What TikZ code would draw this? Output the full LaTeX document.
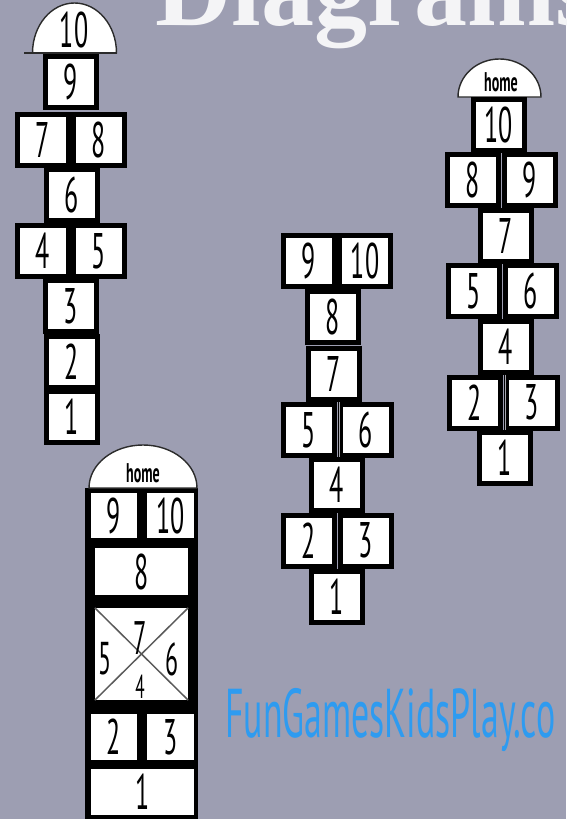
\documentclass[tikz,border=0pt]{standalone}
\usepackage{fontspec}
\usepackage{xcolor}
\usepackage{tikz}
\usetikzlibrary{positioning}
\newfontfamily\hopfont[FakeStretch=0.52]{PT Sans}
\newfontfamily\chalkfont{Liberation Serif}
\definecolor{slate}{HTML}{9D9EB2}
\definecolor{chalk}{HTML}{F4F4F6}
\definecolor{webblue}{HTML}{2E9BF0}
\definecolor{inkc}{HTML}{2B2B2B}
\definecolor{xgray}{HTML}{5A5A5A}
\definecolor{seamc}{HTML}{A6A6AE}
\tikzset{
  cell/.style={draw=black,line width=5pt,fill=white,minimum width=51pt,minimum height=51pt,inner sep=0pt,font=\hopfont\fontsize{50}{50}\selectfont},
  pane/.style={fill=white,inner sep=0pt,font=\hopfont\fontsize{50}{50}\selectfont},
  dome/.style={draw=inkc,line width=1.4pt,fill=white},
  word/.style={inner sep=0pt,font=\hopfont\bfseries\fontsize{27}{27}\selectfont},
  big/.style={inner sep=0pt,font=\hopfont\fontsize{50}{50}\selectfont},
  seam/.style={seamc,line width=0.8pt},
  xline/.style={xgray,line width=1.5pt}
}

\begin{document}
\begin{tikzpicture}[x=1pt,y=-1pt]
\fill[slate] (0,0) rectangle (566,819);
\useasboundingbox (0,0) rectangle (566,819);
\clip (0,0) rectangle (566,819);
\node[anchor=base west,inner sep=0pt,chalk,font=\chalkfont\bfseries\fontsize{106}{106}\selectfont] (title) at (155,25) {Diagrams};

% left court, ten in the dome
\draw[dome] (32.5,53) arc[start angle=180,end angle=360,x radius=42,y radius=50] -- cycle;
\draw[inkc,line width=2pt] (24,53) -- (117,53);
\node[big] (atop) at (74,30) {10};
\node[cell] (a9) at (71,81.5) {9};
\node[cell] (a7) at (43,139.5) {7};
\node[cell] (a8) at (99,139.5) {8};
\node[cell] (a6) at (72,195) {6};
\node[cell] (a4) at (43,251) {4};
\node[cell] (a5) at (99,251) {5};
\node[cell] (a3) at (71,306) {3};
\node[cell] (a2) at (72,361.5) {2};
\node[cell] (a1) at (71.5,416.5) {1};

% middle court
\node[cell] (b9) at (309,261) {9};
\node[cell] (b10) at (365,261) {10};
\node[cell] (b8) at (333,317) {8};
\node[cell] (b7) at (333.5,373.5) {7};
\node[cell] (b5) at (308.5,430) {5};
\node[cell] (b6) at (365.5,430) {6};
\draw[seam] ([xshift=3pt]b5.north east) -- ([xshift=3pt]b5.south east);
\node[cell] (b4) at (336.5,485) {4};
\node[cell] (b2) at (309,540.5) {2};
\node[cell] (b3) at (365.5,540.5) {3};
\node[cell] (b1) at (337,596.5) {1};

% right court
\draw[dome] (458,97) arc[start angle=180,end angle=360,x radius=41.5,y radius=38] -- cycle;
\node[word] (chome) at (501,82) {home};
\node[cell] (c10) at (498.5,124.5) {10};
\node[cell] (c8) at (473,180) {8};
\node[cell] (c9) at (530,180) {9};
\node[cell] (c7) at (505.5,235.5) {7};
\node[cell] (c5) at (474,291) {5};
\node[cell] (c6) at (531,291) {6};
\node[cell] (c4) at (505.5,347) {4};
\node[cell] (c2) at (474.5,402.5) {2};
\node[cell] (c3) at (531.5,402.5) {3};
\draw[seam] ([xshift=3pt]c2.north east) -- ([xshift=3pt]c2.south east);
\node[cell] (c1) at (505,457.5) {1};

% bottom court with the cross square
\fill[black] (85,488) rectangle (198,819);
\draw[dome] (89,488) arc[start angle=180,end angle=360,x radius=54,y radius=43] -- cycle;
\node[word] (dhome) at (143,473) {home};
\node[pane,minimum width=46pt,minimum height=45pt] (d9) at (114,515.5) {9};
\node[pane,minimum width=47pt,minimum height=45pt] (d10) at (170.5,515.5) {10};
\node[pane,minimum width=93pt,minimum height=47pt] (d8) at (141.5,571.5) {8};
\node[pane,minimum width=93pt,minimum height=92pt] (dx) at (141.5,654) {};
\draw[xline] (dx.north west) -- (dx.south east);
\draw[xline] (dx.north east) -- (dx.south west);
\node[inner sep=0pt,font=\hopfont\fontsize{47}{47}\selectfont] (dx7) at (140,638) {7};
\node[inner sep=0pt,font=\hopfont\fontsize{46}{46}\selectfont] (dx5) at (105,659) {5};
\node[inner sep=0pt,font=\hopfont\fontsize{46}{46}\selectfont] (dx6) at (172,659) {6};
\node[inner sep=0pt,font=\hopfont\fontsize{33}{33}\selectfont] (dx4) at (140,686.5) {4};
\node[pane,minimum width=46pt,minimum height=46pt] (d2) at (114,737) {2};
\node[pane,minimum width=47pt,minimum height=46pt] (d3) at (170.5,737) {3};
\node[pane,minimum width=103pt,minimum height=46pt] (d1) at (142.5,792) {1};

\node[anchor=base west,inner sep=0pt,webblue,font=\hopfont\fontsize{69}{69}\selectfont] (site) at (225,737) {FunGamesKidsPlay.co};
\end{tikzpicture}
\end{document}
